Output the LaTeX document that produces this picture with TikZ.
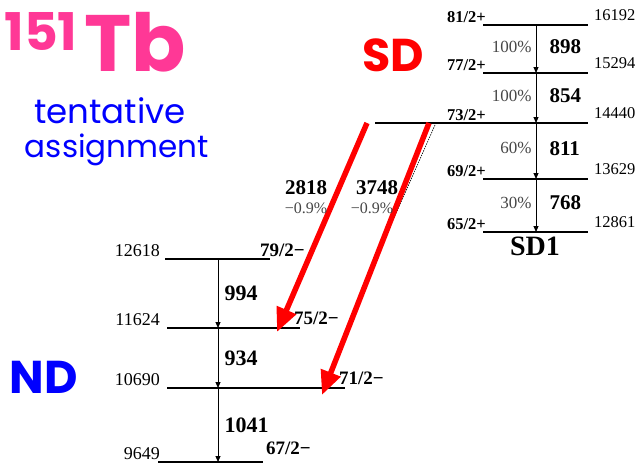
\documentclass[tikz,border=0pt]{standalone}
\usepackage{fontspec}
\setmainfont{Liberation Serif}
\newfontfamily\comicfont{Poppins}
\usetikzlibrary{arrows.meta, positioning}
\definecolor{tbpink}{RGB}{255,56,150}
\definecolor{sdred}{RGB}{255,0,0}
\definecolor{ndblue}{RGB}{0,0,255}
\definecolor{pctgray}{RGB}{70,70,70}

\begin{document}
\begin{tikzpicture}[
      x=1pt, y=-1pt,
      lvl/.style={line width=1.1pt},
      gam/.style={line width=1pt, -{Triangle[length=6pt,width=5pt]}},
      lnk/.style={line width=5.5pt, sdred, -{Triangle[length=24pt,width=20pt]}},
      ener/.style={font=\fontsize{16.5}{16.5}\selectfont, inner sep=1pt},
      spin/.style={font=\fontsize{16.5}{16.5}\selectfont\bfseries, inner sep=1pt},
      egam/.style={font=\fontsize{21}{21}\selectfont\bfseries, inner sep=1pt},
      pct/.style={font=\fontsize{17}{17}\selectfont, pctgray, inner sep=1pt},
      big/.style={font=\comicfont, inner sep=0pt}
    ]
      \useasboundingbox (0,0) rectangle (644,466);

      % Titles
      \node[big, tbpink, font=\comicfont\bfseries\fontsize{52}{52}\selectfont] (mass) at (41,31) {151};
      \node[big, tbpink, font=\comicfont\bfseries\fontsize{80}{80}\selectfont] (elem) at (135,42) {Tb};
      \node[big, ndblue, font=\comicfont\fontsize{34}{34}\selectfont] (tent) at (110,111) {tentative};
      \node[big, ndblue, font=\comicfont\fontsize{31}{31}\selectfont] (assg) at (117,150) {assignment};
      \node[big, sdred, font=\comicfont\bfseries\fontsize{46}{46}\selectfont] (sdtag) at (393,55) {SD};
      \node[big, ndblue, font=\comicfont\bfseries\fontsize{46}{46}\selectfont] (ndtag) at (44,377) {ND};

      % SD band
      \foreach \n/\y/\e in {81/25/16192, 77/73/15294, 73/123/14440, 69/179/13629, 65/232/12861} {
        \coordinate (sd\n) at (536,\y);
        \draw[lvl] (483,\y) -- (588,\y);
        \node[spin, anchor=south east] (sds\n) at (487,\y-1) {\n/2+};
        \node[ener, anchor=south west] (sde\n) at (593,\y-3) {\e};
      }
      \draw[lvl] (375,123) -- (483,123);
      \foreach \u/\l/\p/\e in {81/77/100/898, 77/73/100/854, 73/69/60/811, 69/65/30/768} {
        \draw[gam] (sd\u) -- (sd\l)
          node[pos=0.45, left=3pt, pct] {\p\%}
          node[pos=0.45, right=12pt, egam] {\e};
      }
      \node[font=\fontsize{28}{28}\selectfont\bfseries, anchor=north] (sdname) at (535,233) {SD1};

      % ND band
      \foreach \n/\y/\xa/\xb/\e in {79/259/165/270/12618, 75/328/167/300/11624, 71/388/167/345/10690, 67/462/158/263/9649} {
        \coordinate (nd\n) at (218,\y);
        \draw[lvl] (\xa,\y) -- (\xb,\y);
        \node[ener, font=\fontsize{18}{18}\selectfont, anchor=south east] (nde\n) at (161,\y-1) {\e};
      }
      \node[spin, font=\fontsize{19}{19}\selectfont\bfseries, anchor=south west] (nds79) at (259,258) {79/2−};
      \node[spin, font=\fontsize{19}{19}\selectfont\bfseries, anchor=south west] (nds75) at (293,326) {75/2−};
      \node[spin, font=\fontsize{19}{19}\selectfont\bfseries, anchor=south west] (nds71) at (338,386) {71/2−};
      \node[spin, font=\fontsize{19}{19}\selectfont\bfseries, anchor=south west] (nds67) at (265,456) {67/2−};
      \foreach \u/\l/\e in {79/75/994, 75/71/934, 71/67/1041} {
        \draw[gam] (nd\u) -- (nd\l) node[midway, right=5pt, egam, font=\fontsize{22}{22}\selectfont\bfseries] {\e};
      }

      % linking transitions
      \coordinate (out1) at (367,123);
      \coordinate (out2) at (429,123);
      \coordinate (in1) at (277,332);
      \coordinate (in2) at (322,395);
      \draw[line width=0.6pt, dash pattern=on 1.5pt off 1pt] (435,125) -- (394,218);
      \draw[lnk] (out1) -- (in1);
      \draw[lnk] (out2) -- (in2);
      \node[egam] (l2818) at (306,188) {2818};
      \node[pct, font=\fontsize{16}{16}\selectfont] (p2818) at (306,208) {−0.9\%};
      \node[egam] (l3748) at (377,188) {3748};
      \node[pct, font=\fontsize{16}{16}\selectfont] (p3748) at (372,208) {−0.9\%};
    \end{tikzpicture}
\end{document}
